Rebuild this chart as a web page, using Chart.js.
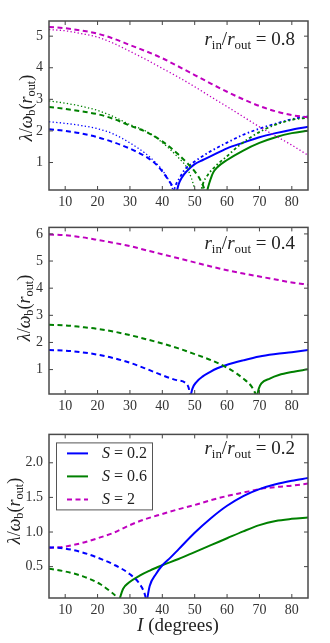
<!DOCTYPE html>
<html><head><meta charset="utf-8">
<script src="https://cdn.jsdelivr.net/npm/chart.js@4/dist/chart.umd.min.js"></script>
<style>
html,body{margin:0;padding:0;background:#fff;}
#wrap{position:relative;width:330px;height:643px;overflow:hidden;font-family:"Liberation Serif","DejaVu Serif",serif;color:#222;}
canvas{position:absolute;left:0;}
.ann{position:absolute;right:35px;font-size:19px;white-space:nowrap;line-height:1;}
.ann sub,.yt sub{font-size:0.68em;vertical-align:-0.28em;line-height:0;font-style:normal;}
.yt{position:absolute;font-size:18px;white-space:nowrap;line-height:1;transform:translate(-50%,-50%) rotate(-90deg);}
.xt{position:absolute;font-size:19px;white-space:nowrap;line-height:1;transform:translate(-50%,-50%);}
</style></head>
<body><div id="wrap">
<canvas id="c1" width="330" height="213" style="top:0px"></canvas>
<canvas id="c2" width="330" height="207" style="top:213px"></canvas>
<canvas id="c3" width="330" height="223" style="top:420px"></canvas>
<div class="ann" style="top:29px"><i>r</i><sub>in</sub>/<i>r</i><sub>out</sub> = 0.8</div>
<div class="ann" style="top:233px"><i>r</i><sub>in</sub>/<i>r</i><sub>out</sub> = 0.4</div>
<div class="ann" style="top:438px"><i>r</i><sub>in</sub>/<i>r</i><sub>out</sub> = 0.2</div>
<div class="yt" style="left:26px;top:108px"><i>λ</i>/<i>ω</i><sub>b</sub>(<i>r</i><sub>out</sub>)</div>
<div class="yt" style="left:24px;top:308px"><i>λ</i>/<i>ω</i><sub>b</sub>(<i>r</i><sub>out</sub>)</div>
<div class="yt" style="left:14px;top:511px"><i>λ</i>/<i>ω</i><sub>b</sub>(<i>r</i><sub>out</sub>)</div>
<div class="xt" style="left:178px;top:624px"><i>I</i> (degrees)</div>
</div>
<script>
// ---- tick labels ----
const xTicks = [10,20,30,40,50,60,70,80];
const yTicks1 = [1,2,3,4,5];
const yTicks2 = [1,2,3,4,5,6];
const yTicks3 = [0.5,1.0,1.5,2.0];
const legendLabels = ["S = 0.2","S = 0.6","S = 2"];

// ---- panel 1: r_in/r_out = 0.8 ----  [I, lambda]
const p1BlueDash = [[5,2.05],[10,2.0],[15,1.92],[20,1.8],[25,1.64],[30,1.44],[35,1.18],[38,0.95],[40,0.72],[42,0.43],[43.5,0.18],[44.2,0]];
const p1BlueDot = [[5,2.29],[10,2.24],[15,2.17],[20,2.07],[25,1.9],[30,1.62],[35,1.27],[38,0.99],[40,0.76],[42,0.43],[43.2,0.15],[43.6,0]];
const p1BlueDotUp = [[43.3,0],[44,0.25],[45,0.45],[47,0.78],[50,1.03],[55,1.36],[60,1.63],[65,1.88],[70,2.07],[75,2.23],[80,2.37],[85,2.46]];
const p1BlueSolid = [[44.3,0],[45,0.3],[46,0.52],[47.5,0.72],[50,0.95],[52.5,1.08],[55,1.2],[60,1.45],[65,1.63],[70,1.8],[75,1.93],[80,2.04],[85,2.13]];
const p1GreenDash = [[5,2.76],[10,2.7],[15,2.62],[20,2.53],[25,2.38],[30,2.17],[35,1.97],[40,1.67],[45,1.25],[48,0.95],[50,0.72],[52,0.4],[53.2,0.1],[53.5,0]];
const p1GreenDot = [[5,2.95],[10,2.88],[15,2.78],[20,2.65],[25,2.45],[30,2.2],[35,1.99],[40,1.63],[45,1.15],[47.5,0.85],[49,0.5],[50,0.15],[50.3,0]];
const p1GreenDotUp = [[51.8,0],[52.6,0.34],[54,0.6],[56.8,0.92],[60,1.2],[63,1.48],[67,1.78],[71,2.02],[75,2.2],[80,2.35],[85,2.42]];
const p1GreenSolid = [[53.7,0],[54.1,0.2],[55,0.5],[55.7,0.68],[57,0.85],[60,1.08],[65,1.38],[70,1.62],[75,1.8],[80,1.93],[85,2.01]];
const p1MagDash = [[5,5.29],[10,5.25],[15,5.18],[20,5.08],[25,4.92],[30,4.72],[35,4.52],[40,4.3],[45,4.04],[50,3.77],[55,3.5],[60,3.24],[65,3.0],[70,2.79],[75,2.62],[80,2.5],[85,2.43]];
const p1MagDot = [[5,5.21],[10,5.17],[15,5.08],[20,4.97],[25,4.77],[30,4.52],[35,4.26],[40,3.98],[45,3.7],[50,3.4],[55,3.08],[60,2.77],[65,2.45],[70,2.13],[75,1.84],[80,1.55],[85,1.23]];

// ---- panel 2: r_in/r_out = 0.4 ----
const p2MagDash = [[5,5.98],[10,5.95],[15,5.88],[20,5.78],[25,5.67],[30,5.55],[35,5.4],[40,5.25],[45,5.1],[50,4.95],[55,4.8],[60,4.66],[65,4.54],[70,4.43],[75,4.32],[80,4.21],[85,4.13]];
const p2GreenDash = [[5,2.65],[10,2.63],[15,2.57],[20,2.5],[25,2.4],[30,2.27],[35,2.12],[40,1.96],[45,1.78],[50,1.57],[55,1.35],[60,1.07],[63,0.85],[65,0.67],[67.6,0.37],[68.8,0.1],[69.1,0]];
const p2GreenSolid = [[69.2,0],[69.8,0.3],[70.6,0.49],[73.2,0.67],[76,0.8],[80,0.91],[85,1.01]];
const p2BlueDash = [[5,1.72],[10,1.7],[15,1.64],[20,1.55],[25,1.42],[30,1.25],[35,1.03],[40,0.79],[44.4,0.61],[47.5,0.47],[48.3,0.25],[48.6,0]];
const p2BlueSolid = [[48.7,0],[49.3,0.3],[50.6,0.55],[52.5,0.75],[54.7,0.91],[57,1.05],[59.8,1.17],[65,1.34],[70,1.48],[75,1.57],[80,1.64],[85,1.72]];

// ---- panel 3: r_in/r_out = 0.2 ----
const p3BlueDash = [[5,0.78],[10,0.76],[15,0.71],[20,0.63],[25,0.53],[30,0.39],[33,0.25],[34.6,0.1],[35.1,0]];
const p3BlueSolid = [[35.2,0],[36.1,0.22],[38,0.39],[40,0.52],[42.5,0.63],[45,0.75],[50,0.99],[55,1.2],[60,1.38],[65,1.52],[70,1.62],[75,1.69],[80,1.74],[85,1.78]];
const p3GreenDash = [[5,0.47],[10,0.43],[15.5,0.36],[20.7,0.25],[23.7,0.15],[25.8,0.06],[26.4,0]];
const p3GreenSolid = [[26.6,0],[27.9,0.18],[29.7,0.27],[33,0.37],[36,0.44],[40,0.52],[45,0.61],[50,0.71],[55,0.81],[60,0.91],[65,1.01],[70,1.1],[75,1.16],[80,1.19],[85,1.21]];
const p3MagDash = [[5,0.77],[10,0.79],[15,0.84],[20,0.91],[25,0.99],[30,1.1],[35,1.19],[40,1.26],[45,1.33],[50,1.39],[55,1.46],[60,1.52],[65,1.57],[70,1.62],[75,1.65],[80,1.67],[85,1.7]];

const BLUE='#0000ff', GREEN='#008000', MAG='#bf00bf';
const pts = a => a.map(p => ({x:p[0], y:p[1]}));
const solid = (d,c,label) => ({data:pts(d),borderColor:c,borderWidth:2,label:label||'',clip:0});
const dashed = (d,c,label) => ({data:pts(d),borderColor:c,borderWidth:2,borderDash:[5,3.5],label:label||'',clip:0});
const dotted = (d,c) => ({data:pts(d),borderColor:c,borderWidth:1.3,borderDash:[1.3,2.3],label:'',clip:0});
const dashdot = (d,c) => ({data:pts(d),borderColor:c,borderWidth:1.8,borderDash:[3,2.5,1.5,2.5],label:'',clip:0});

const framePlugin = {
  id:'frame',
  afterDatasetsDraw(chart){
    const {ctx, chartArea:a, scales} = chart;
    ctx.save();
    ctx.strokeStyle='#444'; ctx.lineWidth=1;
    const tl=4;
    ctx.beginPath();
    scales.x.ticks.forEach(t=>{const px=scales.x.getPixelForValue(t.value);
      ctx.moveTo(px,a.bottom);ctx.lineTo(px,a.bottom-tl);ctx.moveTo(px,a.top);ctx.lineTo(px,a.top+tl);});
    scales.y.ticks.forEach(t=>{const py=scales.y.getPixelForValue(t.value);
      ctx.moveTo(a.left,py);ctx.lineTo(a.left+tl,py);ctx.moveTo(a.right,py);ctx.lineTo(a.right-tl,py);});
    ctx.stroke();
    ctx.lineWidth=1.5; ctx.strokeStyle='#4a4a4a';
    ctx.strokeRect(a.left,a.top,a.right-a.left,a.bottom-a.top);
    ctx.restore();
  }
};

const legendPlugin = {
  id:'boxlegend',
  afterDraw(chart){
    const {ctx, chartArea:a} = chart;
    const items = chart.data.datasets.filter(d=>d.label);
    const bx=a.left+7, by=a.top+8, bw=96, bh=67;
    ctx.save();
    ctx.fillStyle='#fff'; ctx.fillRect(bx,by,bw,bh);
    ctx.strokeStyle='#555'; ctx.lineWidth=1; ctx.strokeRect(bx+0.5,by+0.5,bw,bh);
    items.forEach((d,i)=>{
      const y=by+11+i*23;
      ctx.strokeStyle=d.borderColor; ctx.lineWidth=2; ctx.setLineDash(d.borderDash||[]);
      ctx.beginPath(); ctx.moveTo(bx+11,y); ctx.lineTo(bx+32,y); ctx.stroke();
      ctx.setLineDash([]);
      ctx.fillStyle='#222'; ctx.textBaseline='middle';
      const parts=d.label.split(' ');
      ctx.font='italic 16px "Liberation Serif", serif';
      let x=bx+46; ctx.fillText(parts[0],x,y); x+=ctx.measureText(parts[0]).width;
      ctx.font='16px "Liberation Serif", serif';
      ctx.fillText(' '+parts.slice(1).join(' '),x,y);
    });
    ctx.restore();
  }
};

function makeChart(id, datasets, yTicks, ymin, ymax, padTop, xH, fmt, extra){
  return new Chart(document.getElementById(id), {
    type:'line',
    data:{datasets},
    options:{
      responsive:false, animation:false,
      layout:{padding:{top:padTop,right:22,left:0,bottom:0}},
      elements:{point:{radius:0},line:{cubicInterpolationMode:'monotone'}},
      plugins:{legend:{display:false},tooltip:{enabled:false}},
      scales:{
        x:{type:'linear',min:5,max:85,
          afterBuildTicks:s=>{s.ticks=xTicks.map(v=>({value:v}));},
          afterFit:s=>{s.height=xH;},
          grid:{display:false,drawTicks:false},border:{display:false},
          ticks:{padding:4,color:'#333',font:{family:'"Liberation Serif", serif',size:14},callback:v=>String(v)}},
        y:{type:'linear',min:ymin,max:ymax,
          afterBuildTicks:s=>{s.ticks=yTicks.map(v=>({value:v}));},
          afterFit:s=>{s.width=49;},
          grid:{display:false,drawTicks:false},border:{display:false},
          ticks:{padding:6,color:'#333',font:{family:'"Liberation Serif", serif',size:14},callback:fmt}}
      }
    },
    plugins: extra ? [framePlugin, extra] : [framePlugin]
  });
}

makeChart('c1',[
  dotted(p1MagDot,MAG), dashed(p1MagDash,MAG),
  dotted(p1GreenDot,GREEN), dashdot(p1GreenDotUp,GREEN), dashed(p1GreenDash,GREEN), solid(p1GreenSolid,GREEN),
  dotted(p1BlueDot,BLUE), dashdot(p1BlueDotUp,BLUE), dashed(p1BlueDash,BLUE), solid(p1BlueSolid,BLUE)
], yTicks1, 0.13, 5.48, 21, 23, v=>String(v));

makeChart('c2',[
  dashed(p2MagDash,MAG), dashed(p2GreenDash,GREEN), solid(p2GreenSolid,GREEN),
  dashed(p2BlueDash,BLUE), solid(p2BlueSolid,BLUE)
], yTicks2, 0.1, 6.24, 12, 26, v=>String(v));

makeChart('c3',[
  solid(p3BlueSolid,BLUE,legendLabels[0]), dashed(p3BlueDash,BLUE),
  solid(p3GreenSolid,GREEN,legendLabels[1]), dashed(p3GreenDash,GREEN),
  dashed(p3MagDash,MAG,legendLabels[2])
], yTicks3, 0.047, 2.41, 8, 45, v=>Number(v).toFixed(1), legendPlugin);
</script>
</body></html>
